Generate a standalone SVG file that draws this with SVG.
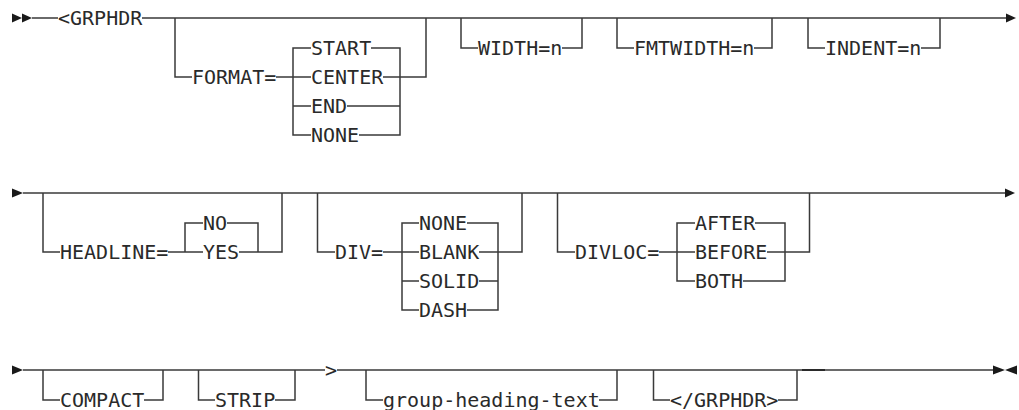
<svg xmlns="http://www.w3.org/2000/svg" width="1019" height="410" viewBox="0 0 1019 410">
<style>
.ln{fill:none;stroke:#3a3a3a;stroke-width:1.5}
.thick{fill:none;stroke:#2a2a2a;stroke-width:2}
.ar{fill:#1a1a1a;stroke:none}
text{font-family:"DejaVu Sans Mono","Liberation Mono",monospace;font-size:20px;fill:#2a2a2a}
</style>
<rect width="1019" height="410" fill="#fff"/>
<g id="connectors">
<path class="ln" d="M32 18H58M142 18H1006"/>
<path class="ln" d="M175 18V77H192M276 77H293M311 48H293V135H311M293 77H311M293 106H311M371 48H400V135H359M383 77H426V18M347 106H400"/>
<path class="ln" d="M461 18V48H478M562 48H582V18"/>
<path class="ln" d="M617 18V48H634M754 48H772V18"/>
<path class="ln" d="M808 18V48H825M921 48H940V18"/>
<path class="ln" d="M23 193H1005"/>
<path class="ln" d="M43 193V252H60M168 252H203M203 223H185V252M227 223H258V252H239M258 252H282V193"/>
<path class="ln" d="M317.5 193V252H335M383 252H419M419 223H402V310H419M402 281H419M467 223H498V310H467M479 252H522V193M479 281H498"/>
<path class="ln" d="M557.5 193V252H575M659 252H695M695 223H677V281H695M755 223H785V281H743M767 252H809.5V193"/>
<path class="ln" d="M23 370H325M337 370H993"/>
<path class="ln" d="M43 370V400H60M144 400H163V370"/>
<path class="ln" d="M198.5 370V400H215M275 400H295V370"/>
<path class="ln" d="M366 370V400H383M599 400H617V370"/>
<path class="ln" d="M653.5 370V400H670M778 400H797V370"/>
<path class="thick" d="M802 370H825"/>
<polygon class="ar" points="12,13.5 22,18 12,22.5"/>
<polygon class="ar" points="22,13.5 32,18 22,22.5"/>
<polygon class="ar" points="1006,13.5 1016,18 1006,22.5"/>
<polygon class="ar" points="12,188.5 23,193 12,197.5"/>
<polygon class="ar" points="1005,188.5 1015,193 1005,197.5"/>
<polygon class="ar" points="12,365.5 23,370 12,374.5"/>
<polygon class="ar" points="993,365.5 1005,370 993,374.5"/>
<polygon class="ar" points="1017,365.5 1005,370 1017,374.5"/>
</g>
<g id="n-grphdr"><text x="58" y="25">&lt;GRPHDR</text></g>
<g id="n-format"><text x="192" y="84">FORMAT=</text></g>
<g id="n-start"><text x="311" y="55">START</text></g>
<g id="n-center"><text x="311" y="84">CENTER</text></g>
<g id="n-end"><text x="311" y="113">END</text></g>
<g id="n-fnone"><text x="311" y="142">NONE</text></g>
<g id="n-width"><text x="478" y="55">WIDTH=n</text></g>
<g id="n-fmtwidth"><text x="634" y="55">FMTWIDTH=n</text></g>
<g id="n-indent"><text x="825" y="55">INDENT=n</text></g>
<g id="n-headline"><text x="60" y="259">HEADLINE=</text></g>
<g id="n-no"><text x="203" y="230">NO</text></g>
<g id="n-yes"><text x="203" y="259">YES</text></g>
<g id="n-div"><text x="335" y="259">DIV=</text></g>
<g id="n-dnone"><text x="419" y="230">NONE</text></g>
<g id="n-blank"><text x="419" y="259">BLANK</text></g>
<g id="n-solid"><text x="419" y="288">SOLID</text></g>
<g id="n-dash"><text x="419" y="317">DASH</text></g>
<g id="n-divloc"><text x="575" y="259">DIVLOC=</text></g>
<g id="n-after"><text x="695" y="230">AFTER</text></g>
<g id="n-before"><text x="695" y="259">BEFORE</text></g>
<g id="n-both"><text x="695" y="288">BOTH</text></g>
<g id="n-compact"><text x="60" y="407">COMPACT</text></g>
<g id="n-strip"><text x="215" y="407">STRIP</text></g>
<g id="n-gt"><text x="325" y="377">&gt;</text></g>
<g id="n-ght"><text x="383" y="407">group-heading-text</text></g>
<g id="n-endtag"><text x="670" y="407">&lt;/GRPHDR&gt;</text></g>
</svg>
